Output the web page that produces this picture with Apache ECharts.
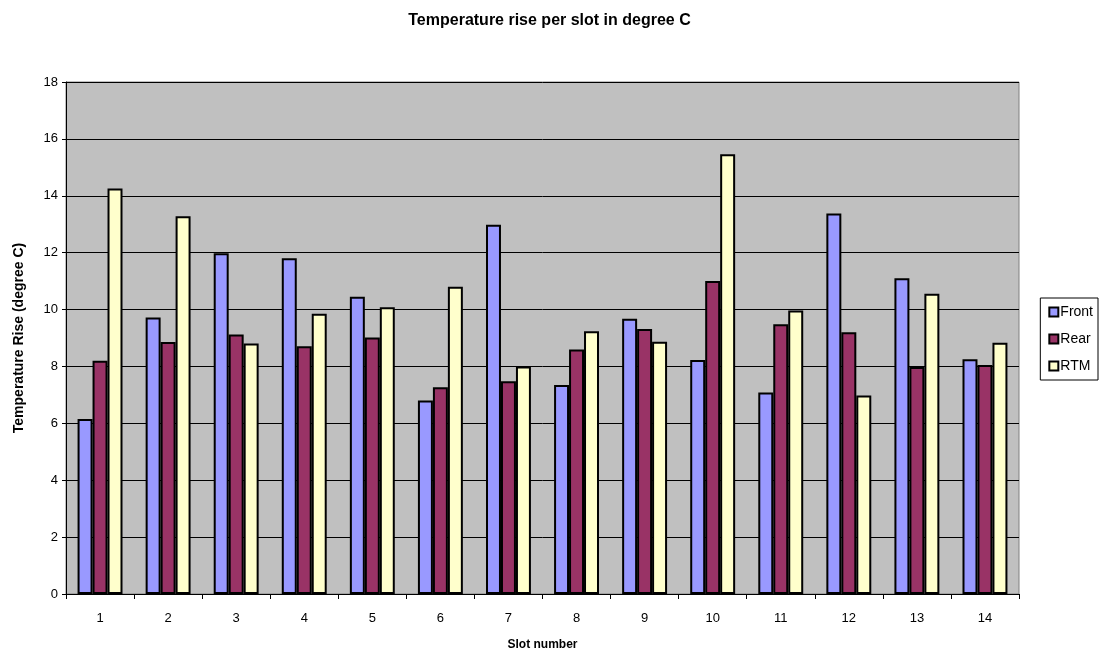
<!DOCTYPE html>
<html>
<head>
<meta charset="utf-8">
<script src="https://cdn.jsdelivr.net/npm/echarts@6/dist/echarts.min.js"></script>
<style>
  html, body { margin: 0; padding: 0; background: #fff; }
  #chart { width: 1099px; height: 656px; }
</style>
</head>
<body>
<div id="chart"></div>
<script>
// Slot numbers along the x axis
const slots = ['1', '2', '3', '4', '5', '6', '7', '8', '9', '10', '11', '12', '13', '14'];

// Temperature rise per slot (degree C)
const front = [6.15, 9.72, 11.98, 11.8, 10.45, 6.8, 12.98, 7.35, 9.68, 8.23, 7.08, 13.38, 11.1, 8.25];
const rear  = [8.2, 8.86, 9.12, 8.71, 9.02, 7.27, 7.48, 8.6, 9.32, 11.0, 9.48, 9.2, 7.98, 8.05];
const rtm   = [14.26, 13.28, 8.81, 9.85, 10.08, 10.8, 8.0, 9.24, 8.87, 15.46, 9.97, 6.98, 10.56, 8.83];

const font = 'Arial, "Liberation Sans", sans-serif';

const chart = echarts.init(document.getElementById('chart'), null, { renderer: 'canvas' });

function barSeries(name, data, color) {
  return {
    name: name,
    type: 'bar',
    data: data,
    barGap: '0%',
    barCategoryGap: '34%',
    itemStyle: { color: color, borderColor: '#000', borderWidth: 2 }
  };
}

chart.setOption({
  animation: false,
  backgroundColor: '#ffffff',
  title: {
    text: 'Temperature rise per slot in degree C',
    left: 'center',
    top: 8,
    textStyle: { fontFamily: font, fontSize: 16, fontWeight: 'bold', color: '#000' }
  },
  legend: {
    orient: 'vertical',
    right: 1,
    top: 298,
    padding: [7, 5, 7, 8],
    itemGap: 13,
    itemWidth: 9,
    itemHeight: 9,
    borderColor: '#000',
    borderWidth: 1,
    icon: 'rect',
    itemStyle: { borderColor: '#000', borderWidth: 2 },
    textStyle: { fontFamily: font, fontSize: 14, color: '#000', padding: [0, 0, 0, -3] },
    data: ['Front', 'Rear', 'RTM']
  },
  grid: {
    left: 66,
    right: 80,
    top: 82,
    bottom: 62,
    show: true,
    backgroundColor: '#C0C0C0',
    borderColor: '#808080',
    borderWidth: 1
  },
  xAxis: {
    type: 'category',
    data: slots,
    name: 'Slot number',
    nameLocation: 'middle',
    nameGap: 45,
    nameTextStyle: { fontFamily: font, fontSize: 12, fontWeight: 'bold', color: '#000' },
    axisLine: { lineStyle: { color: '#000', width: 1 } },
    axisTick: { show: true, length: 5, lineStyle: { color: '#000' } },
    axisLabel: { fontFamily: font, fontSize: 13, color: '#000', margin: 18 }
  },
  yAxis: {
    type: 'value',
    min: 0,
    max: 18,
    interval: 2,
    name: 'Temperature Rise (degree C)',
    nameLocation: 'middle',
    nameGap: 40,
    nameTextStyle: { fontFamily: font, fontSize: 14, fontWeight: 'bold', color: '#000' },
    axisLine: { show: true, lineStyle: { color: '#000', width: 1 } },
    axisTick: { show: true, length: 4, lineStyle: { color: '#000' } },
    axisLabel: { fontFamily: font, fontSize: 13, color: '#000', margin: 8 },
    splitLine: { show: true, lineStyle: { color: '#000', width: 1 } }
  },
  series: [
    barSeries('Front', front, '#9999FF'),
    barSeries('Rear', rear, '#993366'),
    barSeries('RTM', rtm, '#FFFFCC')
  ]
});
</script>
</body>
</html>
